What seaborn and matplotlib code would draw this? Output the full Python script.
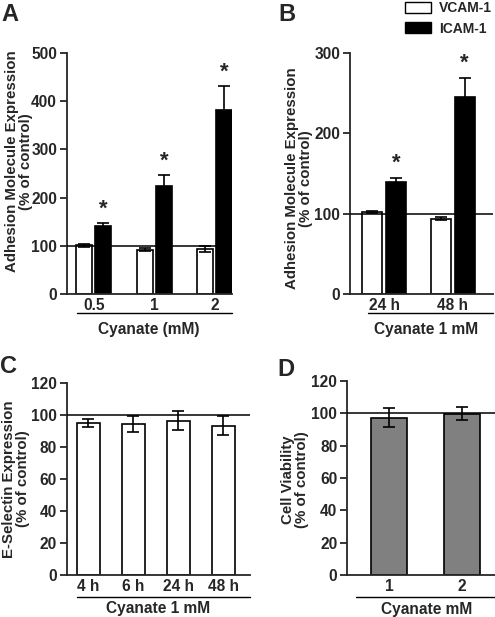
import numpy as np
import pandas as pd
import matplotlib
matplotlib.use("Agg")
import matplotlib.pyplot as plt
import seaborn as sns

# panel A: dose response
doses_a = ["0.5", "1", "2"]
vcam_a = [101, 92, 93]
vcam_a_err = [3, 3, 6]
icam_a = [142, 225, 382]
icam_a_err = [5, 21, 49]

# panel B: time course
times_b = ["24 h", "48 h"]
vcam_b = [102, 94]
vcam_b_err = [1.5, 2]
icam_b = [139, 245]
icam_b_err = [6, 24.5]

# panel C: E-selectin
times_c = ["4 h", "6 h", "24 h", "48 h"]
esel_c = [95, 94.6, 96.5, 93.5]
esel_c_err = [2.5, 5, 6, 6]

# panel D: cell viability
doses_d = ["1", "2"]
viab_d = [97.3, 99.8]
viab_d_err = [6, 4]

sns.set_style("ticks")
plt.rcParams["font.family"] = ["Liberation Sans", "DejaVu Sans"]
plt.rcParams["font.weight"] = "bold"
plt.rcParams["axes.labelweight"] = "bold"

fs = 11.2
fig = plt.figure(figsize=(4.95, 6.17), dpi=100)
axA = fig.add_axes([0.135, 0.5235, 0.333, 0.3905])
axB = fig.add_axes([0.707, 0.5235, 0.289, 0.3905])
axC = fig.add_axes([0.135, 0.068, 0.370, 0.311])
axD = fig.add_axes([0.701, 0.068, 0.299, 0.3145])


def style_axis(ax, ylim, yticks, xlim):
    ax.set_ylim(*ylim)
    ax.set_yticks(yticks)
    ax.set_xlim(*xlim)
    for s in ["top", "right"]:
        ax.spines[s].set_visible(False)
    ax.spines["left"].set_linewidth(1.3)
    ax.spines["bottom"].set_linewidth(1.3)
    ax.tick_params(axis="y", length=5, width=1.3, labelsize=fs, pad=2)
    ax.tick_params(axis="x", length=0, labelsize=fs, pad=3)
    for t in ax.get_xticklabels() + ax.get_yticklabels():
        t.set_fontweight("bold")
    ax.axhline(100, color="black", lw=1.1, zorder=5)
    ax.set_xlabel("")


def add_errors(ax, bars, vals, errs):
    xs = [b.get_x() + b.get_width() / 2 for b in bars]
    ax.errorbar(xs, vals, yerr=errs, fmt="none", ecolor="black",
                elinewidth=1.2, capsize=4, capthick=1.2, zorder=6)


def underline(ax, x0, y, text, ty, tx=0.5):
    ax.plot([x0, 1.0], [y, y], color="black", lw=1.0,
            transform=ax.transAxes, clip_on=False)
    ax.text(tx, ty, text, transform=ax.transAxes, ha="center", va="center",
            fontsize=fs, fontweight="bold")


def ylabel(ax, text, x, y):
    ax.set_ylabel(text, fontsize=10.8, fontweight="bold", linespacing=1.0)
    ax.yaxis.set_label_coords(x, y)


# ---- A
dfA = pd.DataFrame({
    "dose": doses_a * 2,
    "value": vcam_a + icam_a,
    "mol": ["VCAM-1"] * 3 + ["ICAM-1"] * 3,
})
sns.barplot(data=dfA, x="dose", y="value", hue="mol", order=doses_a,
            hue_order=["VCAM-1", "ICAM-1"], palette=["white", "black"],
            edgecolor="black", linewidth=1.2, width=0.64, gap=0.17,
            errorbar=None, legend=False, ax=axA)
barsA = axA.patches
add_errors(axA, barsA[:3], vcam_a, vcam_a_err)
add_errors(axA, barsA[3:6], icam_a, icam_a_err)
for b, v, e in zip(barsA[3:6], icam_a, icam_a_err):
    axA.text(b.get_x() + b.get_width() / 2, v + e + 8, "*", ha="center",
             va="bottom", fontsize=16, fontweight="bold")
style_axis(axA, (0, 500), range(0, 501, 100), (-0.446, 2.28))
ylabel(axA, "Adhesion Molecule Expression\n(% of control)", -0.205, 0.55)
underline(axA, 0.06, -0.079, "Cyanate (mM)", -0.149)

# ---- B
dfB = pd.DataFrame({
    "time": times_b * 2,
    "value": vcam_b + icam_b,
    "mol": ["VCAM-1"] * 2 + ["ICAM-1"] * 2,
})
sns.barplot(data=dfB, x="time", y="value", hue="mol", order=times_b,
            hue_order=["VCAM-1", "ICAM-1"], palette=["white", "black"],
            edgecolor="black", linewidth=1.2, width=0.7, gap=0.17,
            errorbar=None, ax=axB)
barsB = axB.patches
add_errors(axB, barsB[:2], vcam_b, vcam_b_err)
add_errors(axB, barsB[2:4], icam_b, icam_b_err)
for b, v, e in zip(barsB[2:4], icam_b, icam_b_err):
    axB.text(b.get_x() + b.get_width() / 2, v + e + 5, "*", ha="center",
             va="bottom", fontsize=16, fontweight="bold")
style_axis(axB, (0, 300), range(0, 301, 100), (-0.5, 1.59))
ylabel(axB, "Adhesion Molecule Expression\n(% of control)", -0.26, 0.48)
underline(axB, 0.126, -0.079, "Cyanate 1 mM", -0.149, tx=0.53)
leg = axB.legend(loc="upper left", bbox_to_anchor=(0.385, 1.215), frameon=False,
                 fontsize=10, handlelength=1.9, handleheight=0.85,
                 handletextpad=0.55, labelspacing=0.45, borderpad=0,
                 borderaxespad=0)
for t in leg.get_texts():
    t.set_fontweight("bold")
for h in leg.legend_handles:
    h.set_edgecolor("black")
    h.set_linewidth(1.0)

# ---- C
dfC = pd.DataFrame({"time": times_c, "value": esel_c})
sns.barplot(data=dfC, x="time", y="value", order=times_c, color="white",
            edgecolor="black", linewidth=1.2, width=0.51, errorbar=None, ax=axC)
add_errors(axC, axC.patches[:4], esel_c, esel_c_err)
style_axis(axC, (0, 120), range(0, 121, 20), (-0.478, 3.59))
ylabel(axC, "E-Selectin Expression\n(% of control)", -0.2, 0.5)
underline(axC, 0.055, -0.115, "Cyanate 1 mM", -0.175)

# ---- D
dfD = pd.DataFrame({"dose": doses_d, "value": viab_d})
sns.barplot(data=dfD, x="dose", y="value", order=doses_d, color="#808080",
            saturation=1, edgecolor="black", linewidth=1.2, width=0.49,
            errorbar=None, ax=axD)
add_errors(axD, axD.patches[:2], viab_d, viab_d_err)
style_axis(axD, (0, 120), range(0, 121, 20), (-0.575, 1.45))
ylabel(axD, "Cell Viability\n(% of control)", -0.26, 0.49)
underline(axD, 0.06, -0.115, "Cyanate mM", -0.175, tx=0.54)

for x, y, s in [(0.002, 0.995, "A"), (0.563, 0.995, "B"),
                (0.0, 0.425, "C"), (0.56, 0.42, "D")]:
    fig.text(x, y, s, fontsize=17, fontweight="bold", ha="left", va="top")

fig.savefig("out.png", dpi=100)
